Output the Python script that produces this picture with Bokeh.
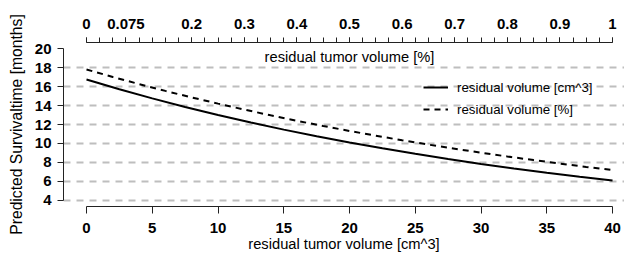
from bokeh.plotting import figure
from bokeh.models import LinearAxis, Range1d, FixedTicker, Legend, LegendItem, Label
from bokeh.embed import file_html
from bokeh.resources import INLINE

# ---- data ----
vol_cm3 = [0, 2.5, 5, 7.5, 10, 12.5, 15, 17.5, 20, 22.5, 25, 27.5, 30, 32.5, 35, 37.5, 40]
surv_cm3 = [16.74, 15.72, 14.75, 13.85, 13.0, 12.21, 11.46, 10.76, 10.1, 9.49, 8.91, 8.36,
            7.85, 7.37, 6.92, 6.5, 6.1]

vol_pct = [0, 0.05, 0.1, 0.15, 0.2, 0.25, 0.3, 0.35, 0.4, 0.45, 0.5, 0.55, 0.6, 0.65, 0.7,
           0.75, 0.8, 0.85, 0.9, 0.95, 1.0]
surv_pct = [17.8, 17.01, 16.26, 15.54, 14.85, 14.2, 13.57, 12.97, 12.39, 11.84, 11.32, 10.82,
            10.34, 9.88, 9.45, 9.03, 8.63, 8.25, 7.88, 7.53, 7.2]

x_ticks = [0, 5, 10, 15, 20, 25, 30, 35, 40]
y_ticks = [4, 6, 8, 10, 12, 14, 16, 18, 20]
grid_ticks = [4, 6, 8, 10, 12, 14, 16, 18]
top_label_ticks = [0, 0.075, 0.2, 0.3, 0.4, 0.5, 0.6, 0.7, 0.8, 0.9, 1]
top_minor_ticks = [i / 40 for i in range(41)]

FONT = "Liberation Sans"

p = figure(width=624, height=254, output_backend="svg", toolbar_location=None,
           x_range=Range1d(-1.749, 40.91), y_range=Range1d(3.36, 20.64),
           min_border_left=63, min_border_right=0, min_border_top=42, min_border_bottom=48,
           x_axis_location=None, y_axis_location=None)
p.outline_line_color = None
p.background_fill_color = "white"
p.extra_x_ranges = {"pct": Range1d(-0.04373, 1.0228)}

# grid
p.xgrid.visible = False
p.ygrid.ticker = FixedTicker(ticks=grid_ticks)
p.ygrid.grid_line_color = "#bebebe"
p.ygrid.grid_line_width = 2
p.ygrid.grid_line_dash = "7 6"

# lines
r1 = p.line(vol_cm3, surv_cm3, line_color="black", line_width=2)
r2 = p.line(vol_pct, surv_pct, x_range_name="pct", line_color="black", line_width=2,
            line_dash="6 5")

def style(ax):
    ax.axis_line_color = "#222222"
    ax.major_tick_line_color = "#222222"
    ax.minor_tick_line_color = None
    ax.major_tick_in = 0
    ax.major_label_text_font = FONT
    ax.major_label_text_font_style = "bold"
    ax.major_label_text_font_size = "15px"
    ax.major_label_text_color = "black"
    ax.axis_label_text_font = FONT
    ax.axis_label_text_font_style = "normal"
    ax.axis_label_text_font_size = "14.7px"
    ax.axis_label_text_color = "black"

# bottom axis
xb = LinearAxis(ticker=FixedTicker(ticks=x_ticks), axis_label="residual tumor volume [cm^3]")
style(xb)
xb.bounds = (0, 40)
xb.major_tick_out = 7
xb.major_label_standoff = 9
xb.axis_label_standoff = 0
p.add_layout(xb, "below")

# left axis
yl = LinearAxis(ticker=FixedTicker(ticks=y_ticks), axis_label="Predicted Survivaltime [months]")
style(yl)
yl.axis_label_text_font_size = "15.7px"
yl.bounds = (4, 20)
yl.major_tick_out = 6
yl.major_label_standoff = 6
yl.axis_label_standoff = 7
p.add_layout(yl, "left")

# top axis
xt = LinearAxis(x_range_name="pct",
                ticker=FixedTicker(ticks=top_label_ticks, minor_ticks=top_minor_ticks))
style(xt)
xt.bounds = (0, 1)
xt.major_tick_out = 5
xt.minor_tick_line_color = "#222222"
xt.minor_tick_out = 5
xt.minor_tick_in = 0
xt.major_label_standoff = 9
p.add_layout(xt, "above")

top_title = Label(x=20, y=19.06, text="residual tumor volume [%]", text_align="center",
                  text_baseline="middle", text_font=FONT, text_font_size="14.7px",
                  text_color="black")
p.add_layout(top_title)

legend = Legend(items=[LegendItem(label="residual volume [cm^3]", renderers=[r1]),
                       LegendItem(label="residual volume [%]", renderers=[r2])],
                location=(360, 87), padding=0, margin=0, spacing=2,
                glyph_width=25, glyph_height=20, label_height=20, label_standoff=9,
                border_line_color=None, background_fill_alpha=0,
                label_text_font=FONT, label_text_font_size="13.3px", label_text_color="black")
p.add_layout(legend, "center")

open("out.html", "w").write(file_html(p, INLINE))
